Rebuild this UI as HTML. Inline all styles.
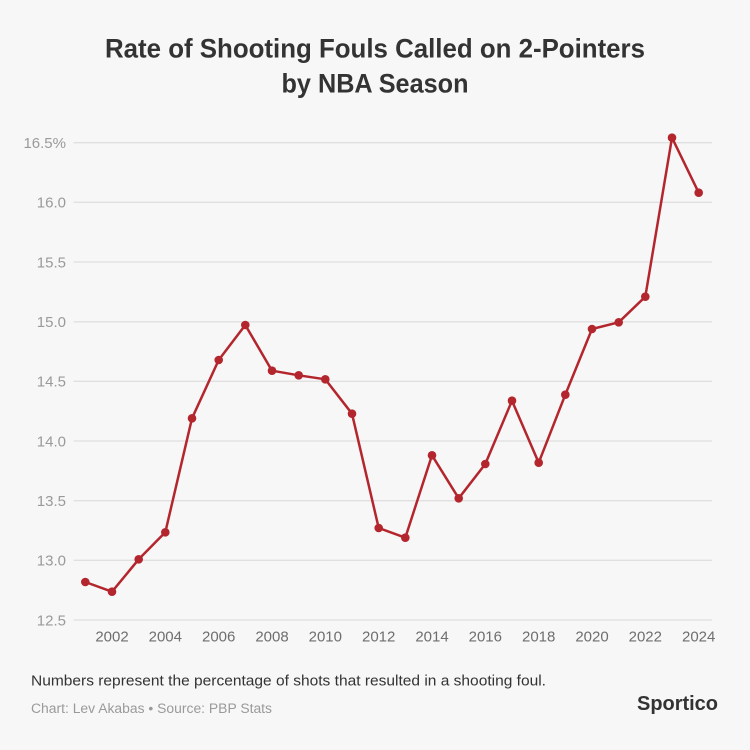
<!DOCTYPE html>
<html><head><meta charset="utf-8"><style>
html,body{margin:0;padding:0;background:#f7f7f7;}
svg{display:block;}
</style></head><body>
<svg width="750" height="750" viewBox="0 0 750 750" xmlns="http://www.w3.org/2000/svg">
<rect width="750" height="750" fill="#f7f7f7"/>
<g font-family="Liberation Sans, DejaVu Sans, sans-serif">
<text x="375" y="57.5" text-anchor="middle" font-size="27" font-weight="bold" fill="#333" textLength="540" lengthAdjust="spacingAndGlyphs">Rate of Shooting Fouls Called on 2-Pointers</text>
<text x="375" y="92.5" text-anchor="middle" font-size="27" font-weight="bold" fill="#333" textLength="187" lengthAdjust="spacingAndGlyphs">by NBA Season</text>
</g>
<g stroke="#e0e0e0" stroke-width="1.3">
<line x1="73.5" x2="712" y1="142.7" y2="142.7"/>
<line x1="73.5" x2="712" y1="202.3" y2="202.3"/>
<line x1="73.5" x2="712" y1="262" y2="262"/>
<line x1="73.5" x2="712" y1="321.8" y2="321.8"/>
<line x1="73.5" x2="712" y1="381.3" y2="381.3"/>
<line x1="73.5" x2="712" y1="441" y2="441"/>
<line x1="73.5" x2="712" y1="500.7" y2="500.7"/>
<line x1="73.5" x2="712" y1="560.3" y2="560.3"/>
<line x1="73.5" x2="712" y1="620" y2="620"/>
</g>
<g font-family="Liberation Sans, DejaVu Sans, sans-serif" font-size="15" fill="#9a9a9a" text-anchor="end">
<text x="66" y="148">16.5%</text>
<text x="66" y="207.6">16.0</text>
<text x="66" y="267.3">15.5</text>
<text x="66" y="327">15.0</text>
<text x="66" y="386.6">14.5</text>
<text x="66" y="446.3">14.0</text>
<text x="66" y="506">13.5</text>
<text x="66" y="565.6">13.0</text>
<text x="66" y="625.3">12.5</text>
</g>
<g font-family="Liberation Sans, DejaVu Sans, sans-serif" font-size="15" fill="#6e6e6e" text-anchor="middle">
<text x="112" y="641.5">2002</text>
<text x="165.3" y="641.5">2004</text>
<text x="218.7" y="641.5">2006</text>
<text x="272" y="641.5">2008</text>
<text x="325.3" y="641.5">2010</text>
<text x="378.7" y="641.5">2012</text>
<text x="432" y="641.5">2014</text>
<text x="485.3" y="641.5">2016</text>
<text x="538.7" y="641.5">2018</text>
<text x="592" y="641.5">2020</text>
<text x="645.3" y="641.5">2022</text>
<text x="698.7" y="641.5">2024</text>
</g>
<polyline fill="none" stroke="#b3262d" stroke-width="2.5" stroke-linejoin="round" points="85.3,582 112,591.7 138.7,559.3 165.3,532.3 192,418.3 218.7,360 245.3,325 272,370.7 298.7,375.3 325.3,379.3 352,413.7 378.7,528 405.3,537.7 432,455.3 458.7,498.3 485.3,464 512,400.7 538.7,462.7 565.3,394.7 592,329 618.7,322.3 645.3,296.7 672,137.7 698.7,192.7"/>
<g fill="#b3262d">
<circle cx="85.3" cy="582" r="4.3"/>
<circle cx="112" cy="591.7" r="4.3"/>
<circle cx="138.7" cy="559.3" r="4.3"/>
<circle cx="165.3" cy="532.3" r="4.3"/>
<circle cx="192" cy="418.3" r="4.3"/>
<circle cx="218.7" cy="360" r="4.3"/>
<circle cx="245.3" cy="325" r="4.3"/>
<circle cx="272" cy="370.7" r="4.3"/>
<circle cx="298.7" cy="375.3" r="4.3"/>
<circle cx="325.3" cy="379.3" r="4.3"/>
<circle cx="352" cy="413.7" r="4.3"/>
<circle cx="378.7" cy="528" r="4.3"/>
<circle cx="405.3" cy="537.7" r="4.3"/>
<circle cx="432" cy="455.3" r="4.3"/>
<circle cx="458.7" cy="498.3" r="4.3"/>
<circle cx="485.3" cy="464" r="4.3"/>
<circle cx="512" cy="400.7" r="4.3"/>
<circle cx="538.7" cy="462.7" r="4.3"/>
<circle cx="565.3" cy="394.7" r="4.3"/>
<circle cx="592" cy="329" r="4.3"/>
<circle cx="618.7" cy="322.3" r="4.3"/>
<circle cx="645.3" cy="296.7" r="4.3"/>
<circle cx="672" cy="137.7" r="4.3"/>
<circle cx="698.7" cy="192.7" r="4.3"/>
</g>
<g font-family="Liberation Sans, DejaVu Sans, sans-serif">
<text x="31" y="685.5" font-size="15" fill="#333" textLength="515" lengthAdjust="spacingAndGlyphs">Numbers represent the percentage of shots that resulted in a shooting foul.</text>
<text x="31" y="713" font-size="13.5" fill="#9a9a9a" textLength="241" lengthAdjust="spacingAndGlyphs">Chart: Lev Akabas • Source: PBP Stats</text>
<text x="637" y="710" font-size="20" font-weight="bold" fill="#333" textLength="81" lengthAdjust="spacingAndGlyphs">Sportico</text>
</g>
</svg>
</body></html>
